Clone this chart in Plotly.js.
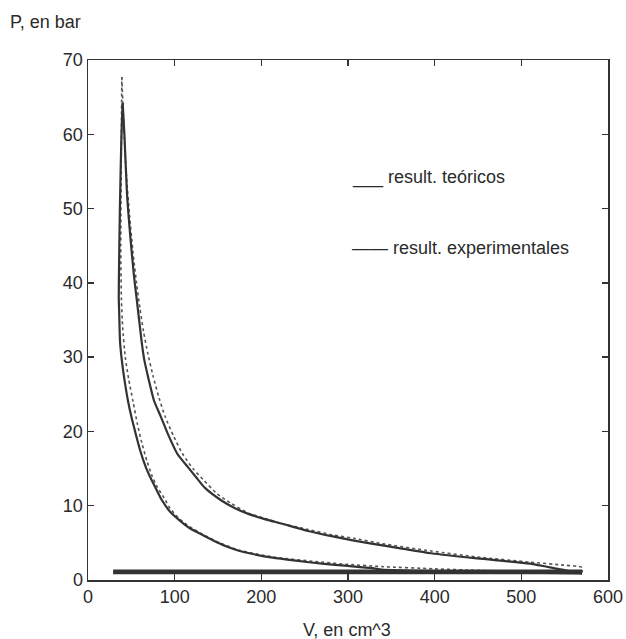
<!DOCTYPE html>
<html>
<head>
<meta charset="utf-8">
<script src="https://cdn.plot.ly/plotly-3.0.1.min.js"></script>
<style>html,body{margin:0;padding:0;background:#fff;}#chart{width:626px;height:639px;}</style>
</head>
<body>
<div id="chart"></div>
<script>
// Experimental (solid) cycle
const expComprV = [570, 500, 450, 400, 360, 339, 328, 300, 270, 240, 213, 190, 175, 160, 152, 135, 117, 105, 94, 85, 78, 72, 67, 60, 55, 50, 46, 42, 39, 37, 36, 35.5, 35.8, 36.8, 38.2, 39.2, 40];
const expComprP = [0.9, 1.0, 1.1, 1.2, 1.3, 1.4, 1.6, 1.9, 2.2, 2.6, 3.0, 3.5, 3.9, 4.5, 4.9, 5.9, 7.0, 8.1, 9.3, 10.8, 12.4, 13.8, 15.1, 17.5, 19.7, 22.0, 24.2, 27.0, 29.6, 32.0, 35.9, 38.0, 42.0, 50.0, 58.0, 62.0, 64.2];
const expExpV = [40, 42, 45, 49, 53, 56, 59, 62, 65, 70, 76, 84, 92, 103, 116, 125, 135, 154, 169, 185, 204, 223, 254, 281, 307, 327, 359, 396, 449, 510, 542, 564, 570];
const expExpP = [64.2, 60, 52, 46, 41, 38, 35, 32, 29.6, 27, 24.2, 22, 19.7, 17, 15.1, 13.8, 12.4, 10.7, 9.7, 8.9, 8.2, 7.6, 6.6, 5.9, 5.3, 4.9, 4.3, 3.6, 2.9, 2.2, 1.5, 1.0, 0.9];
const expExhaustV = [570, 29];
const expExhaustP = [1.25, 1.25];
const expIntakeV = [29, 570];
const expIntakeP = [0.95, 0.95];

// Theoretical (dotted) cycle
const thComprV = [570, 500, 450, 400, 340, 300, 270, 213, 175, 152, 130, 117, 105, 95, 88, 80, 74, 68, 62, 57, 52, 47, 43, 40, 38.5, 37.8, 38.3, 39];
const thComprP = [1.0, 1.15, 1.3, 1.5, 1.8, 2.1, 2.4, 3.1, 4.0, 5.0, 6.3, 7.2, 8.3, 9.6, 11.0, 12.5, 14.0, 16.0, 18.5, 21.0, 24.0, 27.0, 30.0, 34.0, 38.0, 45.0, 55.0, 67.7];
const thExpV = [39, 41, 44, 48, 52, 56, 60, 64, 69, 75, 82, 89, 99, 109, 121, 133, 149, 164, 185, 204, 223, 254, 281, 307, 339, 396, 449, 510, 549, 570, 570];
const thExpP = [67.7, 62, 55, 49, 44, 40, 36.5, 33.5, 30.5, 27.5, 24.5, 22, 19.3, 17, 15, 13.5, 11.6, 10.4, 9.0, 8.3, 7.6, 6.8, 6.1, 5.6, 4.9, 3.9, 3.1, 2.4, 2.0, 1.7, 1.0];
const thPumpV = [570, 29];
const thPumpP = [1.05, 1.05];

const xTicks = [0, 100, 200, 300, 400, 500, 600];
const yTicks = [0, 10, 20, 30, 40, 50, 60, 70];

const solid = {color: '#333333', width: 2.2, shape: 'spline', smoothing: 0.6};
const dotted = {color: '#555555', width: 1.6, dash: 'dot', shape: 'spline', smoothing: 0.6};
const mk = (x, y, line) => ({x: x, y: y, type: 'scatter', mode: 'lines', line: line, hoverinfo: 'skip', showlegend: false});

const data = [
  mk(thComprV, thComprP, dotted),
  mk(thExpV, thExpP, dotted),
  mk(thPumpV, thPumpP, {color: '#555555', width: 1.6, dash: 'dot'}),
  mk(expExhaustV, expExhaustP, {color: '#333333', width: 2.5}),
  mk(expIntakeV, expIntakeP, {color: '#333333', width: 2.5}),
  mk(expComprV, expComprP, solid),
  mk(expExpV, expExpP, solid)
];

const font = {family: 'Liberation Sans, Arial, sans-serif', size: 18, color: '#2a2a2a'};
const L = 88, R = 608, T = 60, B = 580;
const px = v => (v - L) / (R - L);
const py = v => (B - v) / (B - T);

const axisCommon = {
  showgrid: false, zeroline: false, showline: true, mirror: 'ticks',
  linecolor: '#333', linewidth: 1.5, ticks: 'inside', ticklen: 6, tickwidth: 1.3, tickcolor: '#333',
  tickfont: font
};

const layout = {
  width: 626, height: 639,
  margin: {l: L, r: 626 - R, t: T, b: 639 - B},
  paper_bgcolor: '#fff', plot_bgcolor: '#fff',
  font: font,
  xaxis: Object.assign({}, axisCommon, {range: [0, 600], tickvals: xTicks, ticktext: xTicks.map(String)}),
  yaxis: Object.assign({}, axisCommon, {range: [0, 70], tickvals: yTicks, ticktext: yTicks.map(String)}),
  annotations: [
    {text: 'P, en bar', xref: 'paper', yref: 'paper', x: px(8), y: py(22), xanchor: 'left', yanchor: 'middle', showarrow: false, font: font},
    {text: 'V, en cm^3', xref: 'paper', yref: 'paper', x: px(347), y: py(630), xanchor: 'center', yanchor: 'middle', showarrow: false, font: font},
    {text: '___ result. teóricos', xref: 'paper', yref: 'paper', x: px(350), y: py(177), xanchor: 'left', yanchor: 'middle', showarrow: false, font: font},
    {text: '—— result. experimentales', xref: 'paper', yref: 'paper', x: px(350), y: py(248), xanchor: 'left', yanchor: 'middle', showarrow: false, font: font}
  ]
};

Plotly.newPlot('chart', data, layout, {staticPlot: true, displayModeBar: false});
</script>
</body>
</html>
